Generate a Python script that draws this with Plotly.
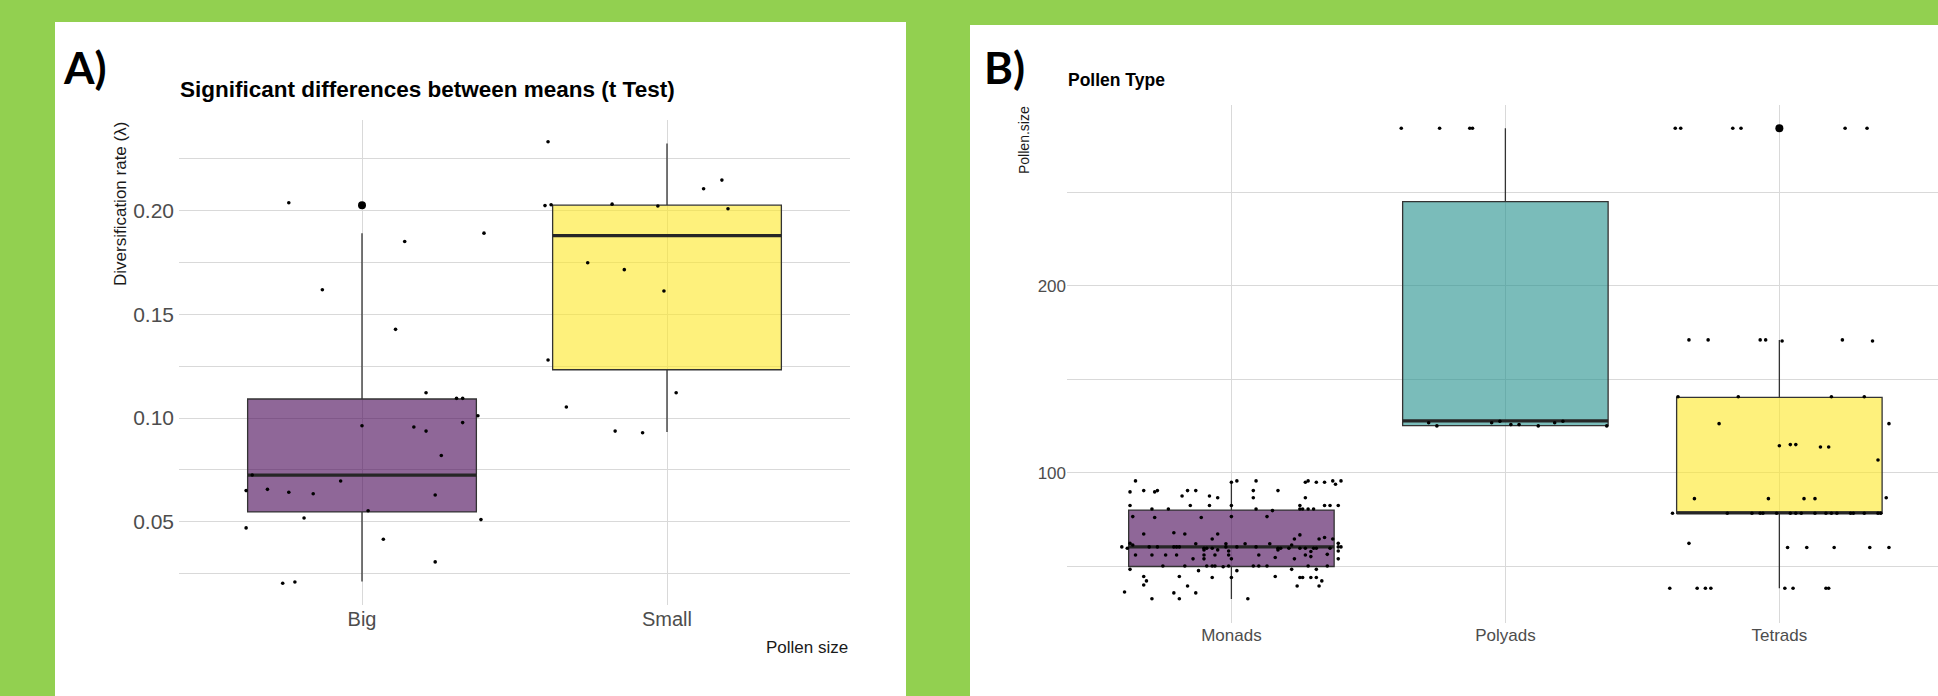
import plotly.graph_objects as go

# ---------------- Panel A data (Diversification rate by pollen size) ----------------
a_categories = ["Big", "Small"]
a_big_values = [0.2039, 0.1619, 0.1852, 0.1892, 0.1428, 0.1122, 0.1095, 0.1095, 0.1011,
                0.0963, 0.0957, 0.0937, 0.0978, 0.0819, 0.0725, 0.0696, 0.0650, 0.0656,
                0.0642, 0.0635, 0.0629, 0.0553, 0.0518, 0.0510, 0.0470, 0.0415, 0.0306,
                0.0203, 0.0209]
a_big_jitter = [-0.24, -0.13, 0.14, 0.40, 0.11, 0.21, 0.31, 0.33, 0.38,
                0.00, 0.17, 0.21, 0.33, 0.26, -0.36, -0.07, -0.38, -0.31,
                -0.24, -0.16, 0.24, 0.02, -0.19, 0.39, -0.38, 0.07, 0.24,
                -0.26, -0.22]
a_small_values = [0.2333, 0.2025, 0.2029, 0.2032, 0.2023, 0.2106, 0.2148, 0.2010,
                  0.1749, 0.1716, 0.1613, 0.1280, 0.1053, 0.1122, 0.0937, 0.0929]
a_small_jitter = [-0.39, -0.40, -0.38, -0.18, -0.03, 0.12, 0.18, 0.20,
                  -0.26, -0.14, -0.01, -0.39, -0.33, 0.03, -0.17, -0.08]
a_q1 = [0.0547, 0.1233]
a_median = [0.0725, 0.1880]
a_q3 = [0.1092, 0.2027]
a_lower = [0.0211, 0.0933]
a_upper = [0.1891, 0.2325]
a_outlier_cats = ["Big"]
a_outlier_values = [0.2027]
a_yticks = [0.05, 0.10, 0.15, 0.20]
a_yminor = [0.025, 0.075, 0.125, 0.175, 0.225]

# ---------------- Panel B data (Pollen size by pollen type) ----------------
b_categories = ["Monads", "Polyads", "Tetrads"]
b_monads_values = (
    [95.6] * 6 + [94.9] * 4 + [93.8] + [90.4] * 6 + [89.7] * 2 + [87.5] * 2 + [86.6] * 3 +
    [82.4] * 8 + [80.6] * 7 + [79.7] + [76.5] * 3 + [76.0] * 2 + [67.9] + [67.2] * 3 +
    [66.7] + [65.3] + [64.5] * 4 + [62.2] * 2 + [62.0] * 4 + [61.3] * 2 + [60.3] * 11 +
    [59.6] * 12 + [58.7] * 3 + [58.1] * 2 + [57.8] + [56.3] + [56.0] * 9 + [55.1] +
    [54.6] + [53.9] * 5 + [50.1] * 11 + [49.7] + [48.3] * 3 + [47.6] * 2 + [44.5] * 3 +
    [43.9] * 6 + [42.1] * 2 + [39.9] + [39.4] * 3 + [36.2] + [35.7] * 2 + [32.6] * 3
)
b_monads_jitter = [
    -0.35, 0.02, 0.09, 0.28, 0.37, 0.40,
    0.00, 0.27, 0.31, 0.34,
    0.38,
    -0.32, -0.27, -0.16, -0.13, 0.08, 0.17,
    -0.37, -0.28,
    -0.18, -0.08,
    -0.05, 0.08, 0.27,
    -0.37, -0.15, -0.08, 0.00, 0.25, 0.34, 0.36, 0.39,
    -0.29, -0.23, 0.09, 0.25, 0.26, 0.28, 0.30,
    0.15,
    -0.36, 0.00, 0.13,
    -0.28, -0.11,
    -0.21,
    -0.32, -0.17, -0.05,
    0.25,
    0.34,
    -0.07, 0.23, 0.32, 0.37,
    -0.37, 0.39,
    -0.13, -0.02, 0.05, 0.14,
    -0.36, 0.22,
    -0.40, -0.30, -0.27, -0.21, -0.20, -0.19, -0.02, 0.02, 0.09, 0.39, 0.40,
    -0.38, -0.10, -0.09, -0.07, 0.17, 0.18, 0.21, 0.25, 0.27, 0.30, 0.31, 0.36,
    0.17, -0.10, -0.05,
    0.39, -0.01,
    0.29,
    0.35,
    -0.35, -0.29, -0.24, -0.20, -0.10, -0.06, -0.01, 0.10, 0.27,
    0.29,
    0.16,
    -0.14, -0.10, 0.00, 0.23, 0.39,
    -0.25, -0.17, -0.09, -0.07, -0.06, -0.01, 0.08, 0.10, 0.13, 0.28, 0.35,
    -0.03,
    -0.37, 0.22, 0.31,
    -0.12, 0.02,
    -0.32, -0.19, 0.16,
    -0.07, 0.00, 0.25, 0.26, 0.29, 0.31,
    -0.31, 0.33,
    -0.32,
    -0.16, 0.24, 0.32,
    -0.39,
    -0.21, -0.13,
    -0.29, -0.19, 0.06,
]
b_polyads_values = [284.2, 284.2, 284.2, 284.2, 126.7, 125.0, 126.7, 127.5, 125.7,
                    125.7, 125.0, 126.7, 127.5, 125.0]
b_polyads_jitter = [-0.38, -0.24, -0.12, -0.13, -0.28, -0.25, -0.05, -0.02, 0.02,
                    0.05, 0.12, 0.18, 0.21, 0.37]
b_tetrads_values = (
    [284.2] * 7 + [171.0] * 5 + [170.4] * 2 + [140.6] * 4 + [126.2] * 2 + [114.4] +
    [115.0] * 2 + [113.7] * 2 + [106.8] + [86.1] * 4 + [86.6] + [78.3] * 18 + [62.2] +
    [60.0] * 5 + [38.2] * 8
)
b_tetrads_jitter = [
    -0.38, -0.36, -0.17, -0.14, 0.00, 0.24, 0.32,
    -0.33, -0.26, -0.07, -0.05, 0.23,
    0.01, 0.34,
    -0.37, -0.15, 0.19, 0.31,
    -0.22, 0.40,
    0.00,
    0.04, 0.06,
    0.15, 0.18,
    0.36,
    -0.31, -0.04, 0.09, 0.13,
    0.39,
    -0.39, -0.19, -0.10, -0.07, -0.06, -0.01, 0.04, 0.06, 0.08, 0.13, 0.17, 0.19, 0.21,
    0.26, 0.27, 0.31, 0.36, 0.37,
    -0.33,
    0.03, 0.10, 0.20, 0.33, 0.40,
    -0.40, -0.30, -0.27, -0.25, 0.02, 0.05, 0.17, 0.18,
]
b_q1 = [49.8, 125.1, 78.3]
b_median = [60.3, 127.7, 78.5]
b_q3 = [80.0, 244.9, 140.3]
b_lower = [32.5, 125.0, 38.2]
b_upper = [95.6, 284.2, 171.0]
b_outlier_cats = ["Tetrads"]
b_outlier_values = [284.2]
b_yticks = [100, 200]
b_yminor = [50, 150, 250]

# ---------------- styles ----------------
GREEN = "#92D050"
FONT = "Liberation Sans, Arial, sans-serif"
LABEL_FONT = "Lato, sans-serif"
GRID = "#D9D9D9"
TICK_COL = "#4D4D4D"
OUTLINE = "#333333"
BOX_W = 0.75
a_fills = ["rgba(68,1,84,0.6)", "rgba(253,231,37,0.6)"]
b_fills = ["rgba(68,1,84,0.6)", "rgba(33,144,140,0.6)", "rgba(253,231,37,0.6)"]

W, H = 1938, 696

fig = go.Figure()


def add_panel(cats, q1, med, q3, lo, up, fills, groups, out_cats, out_vals, xa, ya):
    for i, c in enumerate(cats):
        pos = i + 1
        fig.add_trace(go.Box(
            x=[pos], q1=[q1[i]], median=[med[i]], q3=[q3[i]],
            lowerfence=[lo[i]], upperfence=[up[i]],
            width=BOX_W, fillcolor=fills[i], whiskerwidth=0,
            line=dict(color=OUTLINE, width=1.3), boxpoints=False,
            showlegend=False, hoverinfo="skip", xaxis=xa, yaxis=ya))
        fig.add_trace(go.Scatter(
            x=[pos - BOX_W / 2, pos + BOX_W / 2], y=[med[i], med[i]], mode="lines",
            line=dict(color="#262626", width=3.2), showlegend=False,
            hoverinfo="skip", xaxis=xa, yaxis=ya))
    for i, (vals, jit) in enumerate(groups):
        pos = i + 1
        fig.add_trace(go.Scatter(
            x=[pos + j for j in jit], y=vals, mode="markers",
            marker=dict(color="black", size=3.6, line=dict(width=0)),
            showlegend=False, hoverinfo="skip", xaxis=xa, yaxis=ya))
    fig.add_trace(go.Scatter(
        x=[cats.index(c) + 1 for c in out_cats], y=out_vals, mode="markers",
        marker=dict(color="black", size=8, line=dict(width=0)),
        showlegend=False, hoverinfo="skip", xaxis=xa, yaxis=ya))


add_panel(a_categories, a_q1, a_median, a_q3, a_lower, a_upper, a_fills,
          [(a_big_values, a_big_jitter), (a_small_values, a_small_jitter)],
          a_outlier_cats, a_outlier_values, "x", "y")
add_panel(b_categories, b_q1, b_median, b_q3, b_lower, b_upper, b_fills,
          [(b_monads_values, b_monads_jitter), (b_polyads_values, b_polyads_jitter),
           (b_tetrads_values, b_tetrads_jitter)],
          b_outlier_cats, b_outlier_values, "x2", "y2")


def px(x):
    return x / W


def py(y):
    return 1 - y / H


axis_common = dict(showline=False, zeroline=False, ticks="", gridcolor=GRID,
                   gridwidth=1.2, showgrid=True)

fig.update_layout(
    width=W, height=H, autosize=False,
    margin=dict(l=0, r=0, t=0, b=0, pad=0),
    paper_bgcolor=GREEN, plot_bgcolor="white",
    font=dict(family=FONT),
    xaxis=dict(domain=[px(179), px(850)], range=[0.4, 2.6], anchor="y",
               tickvals=[1, 2], ticktext=a_categories,
               tickfont=dict(size=20, color=TICK_COL), **axis_common),
    yaxis=dict(domain=[py(605), py(120)], range=[0.0098, 0.2438], anchor="x",
               tickvals=a_yticks, ticktext=[f"{v:.2f}" for v in a_yticks],
               tickfont=dict(size=21, color=TICK_COL), ticklabelstandoff=4,
               minor=dict(tickvals=a_yminor, showgrid=True, gridcolor=GRID, gridwidth=1.2),
               **axis_common),
    xaxis2=dict(domain=[px(1067), 1.0], range=[0.4, 3.579], anchor="y2",
                tickvals=[1, 2, 3], ticktext=b_categories,
                tickfont=dict(size=17, color=TICK_COL), **axis_common),
    yaxis2=dict(domain=[py(623), py(105)], range=[19.6, 296.6], anchor="x2",
                tickvals=b_yticks, ticktext=[str(v) for v in b_yticks],
                tickfont=dict(size=17, color=TICK_COL),
                minor=dict(tickvals=b_yminor, showgrid=True, gridcolor=GRID, gridwidth=1.2),
                **axis_common),
    shapes=[
        dict(type="rect", xref="paper", yref="paper", x0=px(55), x1=px(906),
             y0=0, y1=py(22), fillcolor="white", line=dict(width=0), layer="below"),
        dict(type="rect", xref="paper", yref="paper", x0=px(970), x1=1.0,
             y0=0, y1=py(25), fillcolor="white", line=dict(width=0), layer="below"),
    ],
    annotations=[
        dict(text="<b>A)</b>", x=px(61), y=py(67), xref="paper", yref="paper",
             xanchor="left", yanchor="middle", showarrow=False,
             font=dict(family=LABEL_FONT, size=44, color="black")),
        dict(text="<b>B)</b>", x=px(982), y=py(67), xref="paper", yref="paper",
             xanchor="left", yanchor="middle", showarrow=False,
             font=dict(family=LABEL_FONT, size=44, color="black")),
        dict(text="<b>Significant differences between means (t Test)</b>",
             x=px(178), y=py(90), xref="paper", yref="paper",
             xanchor="left", yanchor="middle", showarrow=False,
             font=dict(family=FONT, size=22.5, color="black")),
        dict(text="<b>Pollen Type</b>", x=px(1066), y=py(80), xref="paper", yref="paper",
             xanchor="left", yanchor="middle", showarrow=False,
             font=dict(family=FONT, size=17.5, color="black")),
        dict(text="Diversification rate (λ)", x=px(120), y=py(204), xref="paper",
             yref="paper", xanchor="center", yanchor="middle", textangle=-90,
             showarrow=False, font=dict(family=FONT, size=17, color="#1A1A1A")),
        dict(text="Pollen size", x=px(850), y=py(647), xref="paper", yref="paper",
             xanchor="right", yanchor="middle", showarrow=False,
             font=dict(family=FONT, size=17, color="#1A1A1A")),
        dict(text="Pollen.size", x=px(1024), y=py(140), xref="paper", yref="paper",
             xanchor="center", yanchor="middle", textangle=-90, showarrow=False,
             font=dict(family=FONT, size=14, color="#1A1A1A")),
    ],
)

fig.write_html("out.html", config={"displayModeBar": False},
               post_script="document.body.style.margin='0';")
